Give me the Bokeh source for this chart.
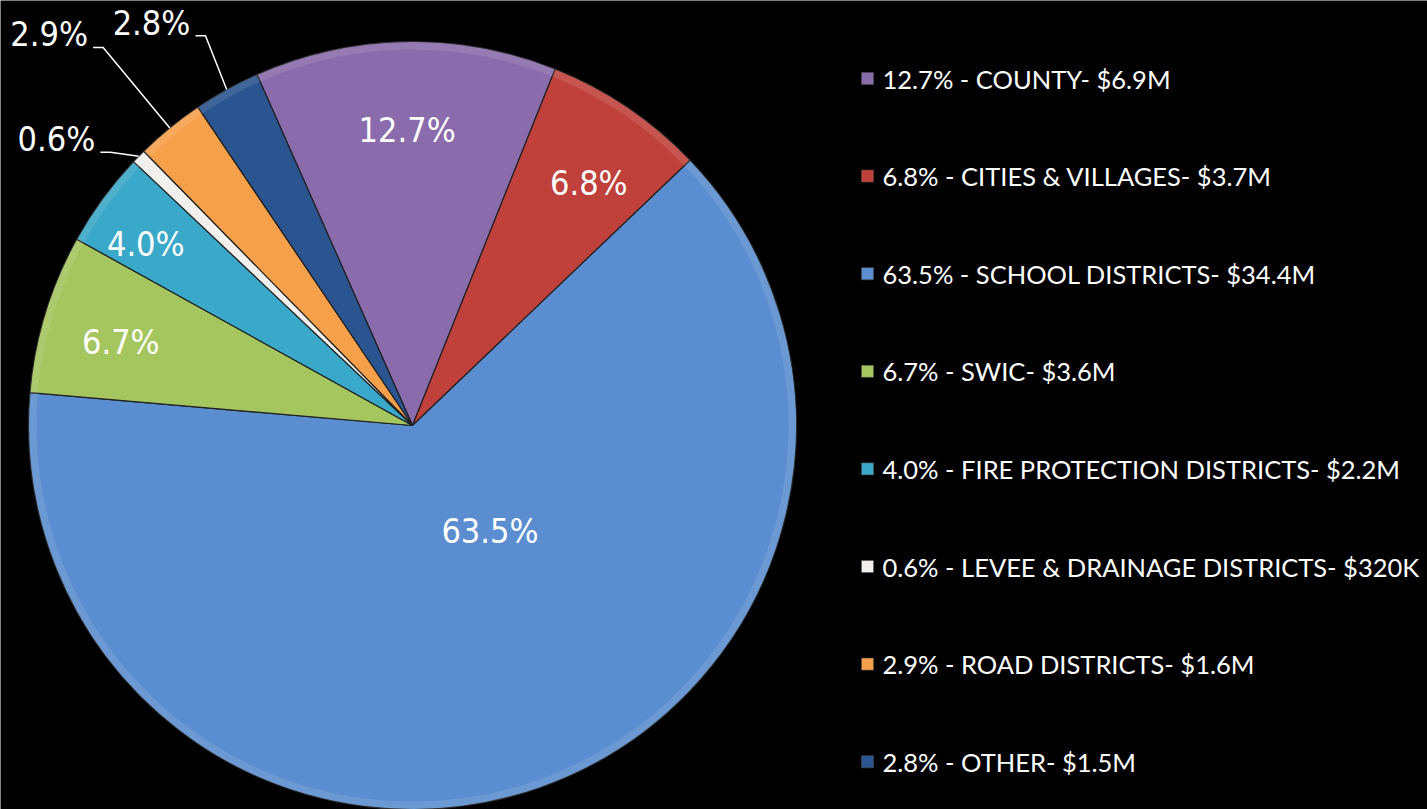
import math
from bokeh.plotting import figure
from bokeh.models import ColumnDataSource, Range1d
from bokeh.core.properties import value
from bokeh.embed import file_html
from bokeh.resources import INLINE

# ---- data ----
names = ["COUNTY", "CITIES & VILLAGES", "SCHOOL DISTRICTS", "SWIC",
         "FIRE PROTECTION DISTRICTS", "LEVEE & DRAINAGE DISTRICTS",
         "ROAD DISTRICTS", "OTHER"]
percents = [12.7, 6.8, 63.5, 6.7, 4.0, 0.6, 2.9, 2.8]
amounts = ["$6.9M", "$3.7M", "$34.4M", "$3.6M", "$2.2M", "$320K", "$1.6M", "$1.5M"]

# ---- style ----
colors = ["#8A6BAC", "#C0413B", "#5B8ED0", "#A5C55F", "#3AA8C8", "#F1F0EC", "#F6A04B", "#2A5590"]
W, H = 1427, 809
cx, cy, R = 412, H - 425, 384
start_deg = -23.9  # clockwise from 12 o'clock
# label placement: (radius fraction, angle offset from slice middle in degrees, outside?)
label_pos = [(0.77, 0, False), (0.78, 2, False), (0.34, -17, False), (0.79, -1, False),
             (0.84, -2, False), (1.19, -5.7, True), (1.39, -3.7, True), (1.25, -4, True)]
label_font = "DejaVu Sans Condensed"
legend_font = "Lato"

p = figure(width=W, height=H, x_range=Range1d(0, W), y_range=Range1d(0, H),
           output_backend="svg", toolbar_location=None, min_border=0,
           background_fill_color="black", border_fill_color="black")
p.outline_line_color = None
p.axis.visible = False
p.grid.visible = False

total = sum(percents)
starts, ends, mids = [], [], []
th = start_deg
for v in percents:
    span = v / total * 360.0
    starts.append(th)
    ends.append(th + span)
    mids.append(th + span / 2)
    th += span

def math_ang(t):
    return math.radians(90 - t)

src = ColumnDataSource(dict(
    x=[cx] * len(percents), y=[cy] * len(percents),
    start=[math_ang(s) for s in starts], end=[math_ang(e) for e in ends],
    color=colors))
p.wedge(x="x", y="y", radius=R, start_angle="start", end_angle="end",
        direction="clock", fill_color="color", line_color="#202020", line_width=1.2,
        source=src)
# subtle bevel highlight at rim
p.annular_wedge(x="x", y="y", inner_radius=R - 8, outer_radius=R, start_angle="start",
                end_angle="end", direction="clock", fill_color="white", fill_alpha=0.10,
                line_color=None, source=src)

def polar(t, r):
    a = math.radians(t)
    return cx + r * math.sin(a), cy + r * math.cos(a)

in_x, in_y, in_t = [], [], []
out_x, out_y, out_t = [], [], []
for i, v in enumerate(percents):
    frac, off, outside = label_pos[i]
    lx, ly = polar(mids[i] + off, R * frac)
    txt = f"{v:.1f}%"
    if outside:
        out_x.append(lx); out_y.append(ly); out_t.append(txt)
        ex, ey = polar(mids[i], R)           # slice edge
        hx = lx + 44                          # end of horizontal tail
        elx = hx + 10
        p.line([ex, elx, hx], [ey, ly - 13, ly - 13],
               line_color="white", line_width=1.5)
    else:
        in_x.append(lx); in_y.append(ly); in_t.append(txt)

p.text(x=in_x, y=in_y, text=in_t, text_color="white", text_font=value(label_font),
       text_font_size="34px", text_align="center", text_baseline="middle")
p.text(x=out_x, y=out_y, text=out_t, text_color="white", text_font=value(label_font),
       text_font_size="34px", text_align="center", text_baseline="middle")

# legend
leg_x = 867
leg_top = H - 78
leg_step = 97.6
ly_list = [leg_top - i * leg_step for i in range(len(names))]
p.scatter(x=[leg_x] * len(names), y=ly_list, marker="square", size=12,
          fill_color=colors, line_color="#555555", line_width=0.5)
leg_text = [f"{v:.1f}% - {n}- {a}" for v, n, a in zip(percents, names, amounts)]
p.text(x=[leg_x + 15] * len(names), y=ly_list, text=leg_text, text_color="white",
       text_font=value(legend_font), text_font_size="25.5px", text_align="left",
       text_baseline="middle")

open("out.html", "w").write(file_html(p, INLINE))
